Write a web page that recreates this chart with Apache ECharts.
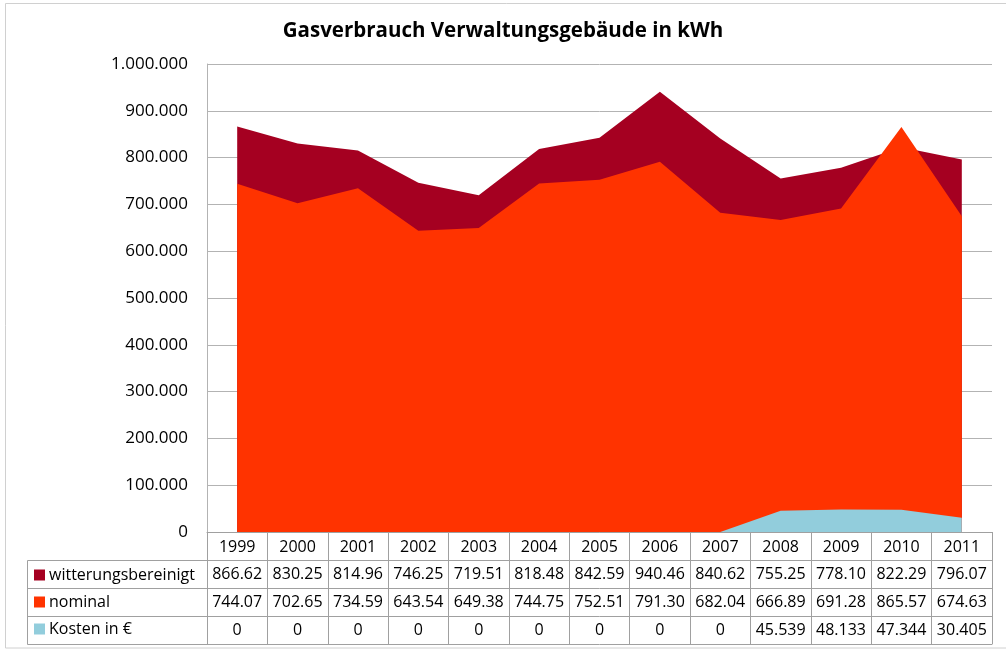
<!DOCTYPE html>
<html>
<head>
<meta charset="utf-8">
<script src="https://cdn.jsdelivr.net/npm/echarts@6/dist/echarts.min.js"></script>
<style>
  html, body { margin: 0; padding: 0; background: #fff; }
  #chart { width: 1006px; height: 651px; }
</style>
</head>
<body>
<div id="chart"></div>
<script>
// Daten (kWh bzw. €)
var years = ['1999', '2000', '2001', '2002', '2003', '2004', '2005', '2006', '2007', '2008', '2009', '2010', '2011'];
var witterung = [866620, 830250, 814960, 746250, 719510, 818480, 842590, 940460, 840620, 755250, 778100, 822290, 796070];
var nominal = [744070, 702650, 734590, 643540, 649380, 744750, 752510, 791300, 682040, 666890, 691280, 865570, 674630];
var kosten = [0, 0, 0, 0, 0, 0, 0, 0, 0, 45539, 48133, 47344, 30405];

var FONT = 'Open Sans';
var GRID_COLOR = '#b3b3b3';
var TABLE_COLOR = '#a0a0a0';

// 1000000 -> 1.000.000
function deNum(v) {
    return String(v).replace(/\B(?=(\d{3})+(?!\d))/g, '.');
}
// Tabellenwerte wie in Excel angezeigt
function kwhCell(v) {
    return (v / 1000).toFixed(2);
}
function euroCell(v) {
    return v === 0 ? '0' : (v / 1000).toFixed(3);
}

function rowAxis(offset, values, fmt) {
    return {
        type: 'category',
        data: years,
        position: 'bottom',
        offset: offset,
        axisLine: { show: true, lineStyle: { color: TABLE_COLOR, width: 1 } },
        axisTick: { show: false },
        axisLabel: {
            show: values != null,
            interval: 0,
            margin: 14,
            verticalAlign: 'middle',
            color: '#000',
            fontFamily: FONT,
            fontSize: 16,
            formatter: function (v, i) { return values ? fmt(values[i]) : ''; }
        }
    };
}

var dom = document.getElementById('chart');
var myChart = echarts.init(dom);
var option = {
    animation: false,
    backgroundColor: '#fff',
    title: {
        text: 'Gasverbrauch Verwaltungsgebäude in kWh',
        left: 'center',
        top: 16,
        textStyle: { fontFamily: FONT, fontSize: 20.5, fontWeight: 'bold', color: '#000' }
    },
    legend: {
        orient: 'vertical',
        left: 34,
        top: 567,
        itemWidth: 11,
        itemHeight: 11,
        itemGap: 11,
        icon: 'rect',
        padding: 0,
        textStyle: { color: '#000', fontFamily: FONT, fontSize: 16, padding: [0, 0, 0, -1] },
        data: ['witterungsbereinigt', 'nominal', 'Kosten in €']
    },
    grid: { left: 207, right: 14, top: 64, bottom: 119 },
    xAxis: [
        {
            type: 'category',
            data: years,
            position: 'bottom',
            boundaryGap: true,
            axisLine: { show: true, lineStyle: { color: TABLE_COLOR, width: 1 } },
            axisTick: { show: true, interval: 0, length: 112, lineStyle: { color: TABLE_COLOR, width: 1 } },
            axisLabel: { interval: 0, margin: 15, verticalAlign: 'middle', color: '#000', fontFamily: FONT, fontSize: 16 }
        },
        rowAxis(28, witterung, kwhCell),
        rowAxis(56, nominal, kwhCell),
        rowAxis(84, kosten, euroCell),
        rowAxis(112, null, null)
    ],
    yAxis: {
        type: 'value',
        min: 0,
        max: 1000000,
        interval: 100000,
        axisLine: { show: true, lineStyle: { color: GRID_COLOR } },
        axisTick: { show: false },
        splitLine: { show: true, lineStyle: { color: GRID_COLOR, width: 1 } },
        axisLabel: {
            margin: 19,
            color: '#000',
            fontFamily: FONT,
            fontSize: 17,
            formatter: function (v) { return deNum(v); }
        }
    },
    series: [
        {
            name: 'witterungsbereinigt',
            type: 'line',
            data: witterung,
            showSymbol: false,
            color: '#a50021',
            lineStyle: { width: 0 },
            areaStyle: { color: '#a50021', opacity: 1 }
        },
        {
            name: 'nominal',
            type: 'line',
            data: nominal,
            showSymbol: false,
            color: '#ff3300',
            lineStyle: { width: 0 },
            areaStyle: { color: '#ff3300', opacity: 1 }
        },
        {
            name: 'Kosten in €',
            type: 'line',
            data: kosten,
            showSymbol: false,
            color: '#92cddc',
            lineStyle: { width: 0 },
            areaStyle: { color: '#92cddc', opacity: 1 }
        }
    ],
    graphic: [
        // Rahmen des Diagramms
        { type: 'rect', silent: true, shape: { x: 5.5, y: 3.5, width: 1010, height: 644.5 },
          style: { fill: null, stroke: '#d0d0d0', lineWidth: 1 } },
        // linke Spalte der Datentabelle
        { type: 'rect', silent: true, shape: { x: 27.5, y: 560.5, width: 180, height: 84 },
          style: { fill: null, stroke: TABLE_COLOR, lineWidth: 1 } },
        { type: 'line', silent: true, shape: { x1: 27.5, y1: 588.5, x2: 207, y2: 588.5 },
          style: { stroke: TABLE_COLOR, lineWidth: 1 } },
        { type: 'line', silent: true, shape: { x1: 27.5, y1: 616.5, x2: 207, y2: 616.5 },
          style: { stroke: TABLE_COLOR, lineWidth: 1 } }
    ]
};
if (option && typeof option === "object") {
    myChart.setOption(option, true);
}
</script>
</body>
</html>
